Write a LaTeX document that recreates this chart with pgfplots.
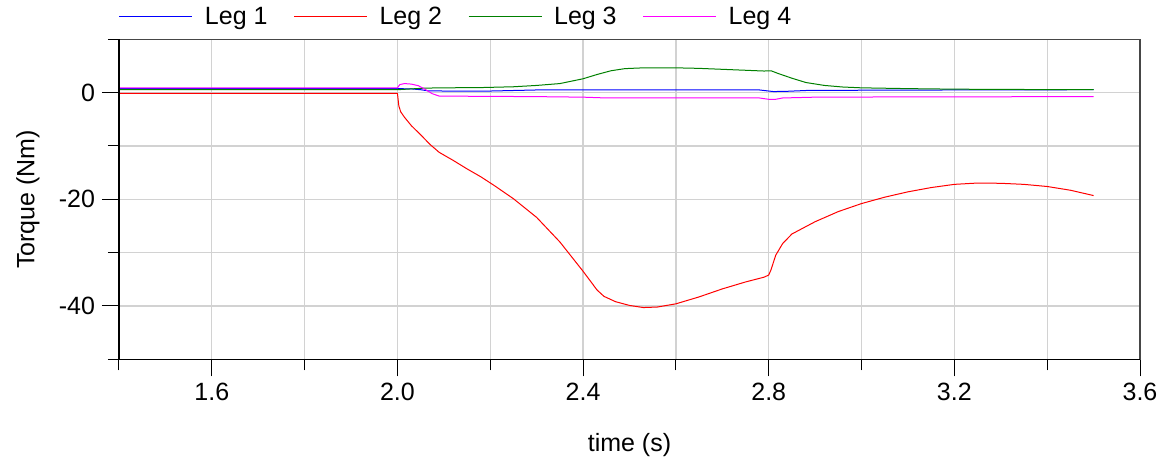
\documentclass[border=0pt]{standalone}
\usepackage{pgfplots}
\pgfplotsset{compat=1.18}
\usepackage{fontspec}
\setmainfont{Liberation Sans}
\definecolor{cblue}{RGB}{0,0,255}
\definecolor{cred}{RGB}{255,0,0}
\definecolor{cgreen}{RGB}{0,128,0}
\definecolor{cmag}{RGB}{255,0,255}
\definecolor{gridc}{RGB}{210,210,210}
\definecolor{boxc}{RGB}{70,70,70}
\begin{document}
\begin{tikzpicture}
\useasboundingbox (-59.5pt,-52.85pt) rectangle (524pt,179.65pt);
\begin{axis}[
  scale only axis,
  width=510.5pt, height=160pt,
  xmin=1.4, xmax=3.6, ymin=-50, ymax=10,
  xtick={1.6,2.0,2.4,2.8,3.2,3.6},
  xticklabels={1.6,2.0,2.4,2.8,3.2,3.6},
  minor xtick={1.4,1.8,2.2,2.6,3.0,3.4},
  ytick={-40,-20,0},
  yticklabels={-40,-20,0},
  minor ytick={-50,-30,-10,10},
  grid=both,
  major grid style={gridc, line width=0.6pt},
  minor grid style={gridc, line width=0.6pt},
  tick align=outside,
  xtick pos=bottom, ytick pos=left,
  major tick length=8.5pt,
  minor tick length=5.5pt,
  every tick/.style={black, line width=0.5pt},
  axis line style={boxc, line width=0.75pt},
  tick label style={font=\fontsize{12.5}{15}\selectfont},
  label style={font=\fontsize{12.5}{15}\selectfont},
  xlabel={time (s)},
  ylabel={Torque (Nm)},
  x label style={at={(axis description cs:0.5,-0.268)}, anchor=center},
  y label style={at={(axis description cs:-0.0891,0.5)}, anchor=center, rotate=0},
  legend columns=4,
  legend style={draw=none, fill=none, inner sep=0pt, outer sep=0pt,
    at={(axis description cs:0,1.0697)}, anchor=west,
    font=\fontsize{12.5}{15}\selectfont,
    nodes={inner sep=0pt},
    /tikz/every even column/.append style={column sep=13pt},
    /tikz/every odd column/.append style={column sep=6pt}},
  legend image code/.code={\draw[#1] (0pt,0pt) -- (36.5pt,0pt);},
  after end axis/.code={\draw[black, line width=0.6pt] (rel axis cs:0,1) -- (rel axis cs:0,0) -- (rel axis cs:1,0);},
]
\addplot[cblue, line width=0.5pt] coordinates {
(1.4,0.75)(2.0,0.75)(2.03,0.7)(2.05,0.55)(2.065,0.35)(2.1,0.3)(2.2,0.3)(2.25,0.4)(2.3,0.5)(2.78,0.5)(2.8,0.3)(2.81,0.2)(2.84,0.25)(2.88,0.4)(3.0,0.45)(3.2,0.5)(3.5,0.55)
};
\addlegendentry{Leg 1}
\addplot[cred, line width=0.5pt] coordinates {
(1.4,-0.15)(2.0,-0.15)(2.003,-2.5)(2.007,-3.6)(2.015,-4.6)(2.03,-6.2)(2.05,-7.9)(2.07,-9.7)(2.09,-11.2)(2.12,-12.7)(2.15,-14.3)(2.18,-15.8)(2.21,-17.5)(2.25,-19.9)(2.3,-23.4)(2.35,-28)(2.4,-33.5)(2.43,-37)(2.445,-38.2)(2.47,-39.2)(2.5,-39.9)(2.53,-40.3)(2.56,-40.2)(2.6,-39.6)(2.65,-38.3)(2.7,-36.8)(2.75,-35.5)(2.79,-34.6)(2.8,-34.2)(2.805,-33.2)(2.815,-30.5)(2.83,-28.3)(2.85,-26.5)(2.9,-24.2)(2.95,-22.3)(3.0,-20.8)(3.05,-19.6)(3.1,-18.6)(3.15,-17.8)(3.2,-17.2)(3.25,-16.95)(3.3,-17.0)(3.35,-17.2)(3.4,-17.6)(3.45,-18.3)(3.5,-19.3)
};
\addlegendentry{Leg 2}
\addplot[cgreen, line width=0.5pt] coordinates {
(1.4,0.55)(2.0,0.55)(2.03,0.7)(2.06,0.85)(2.1,0.9)(2.18,0.95)(2.25,1.1)(2.3,1.35)(2.35,1.7)(2.4,2.6)(2.43,3.4)(2.46,4.1)(2.49,4.5)(2.53,4.65)(2.6,4.65)(2.65,4.55)(2.72,4.3)(2.79,4.05)(2.805,4.1)(2.82,3.6)(2.85,2.7)(2.88,1.9)(2.92,1.35)(2.96,1.05)(3.0,0.9)(3.1,0.75)(3.2,0.65)(3.3,0.6)(3.5,0.55)
};
\addlegendentry{Leg 3}
\addplot[cmag, line width=0.5pt] coordinates {
(1.4,0.9)(2.0,0.9)(2.005,1.5)(2.015,1.7)(2.03,1.6)(2.045,1.3)(2.06,0.6)(2.075,-0.2)(2.09,-0.65)(2.2,-0.7)(2.3,-0.75)(2.4,-0.85)(2.45,-1.0)(2.78,-1.0)(2.8,-1.25)(2.815,-1.25)(2.83,-1.0)(2.9,-0.85)(3.1,-0.8)(3.5,-0.75)
};
\addlegendentry{Leg 4}
\end{axis}
\end{tikzpicture}
\end{document}
